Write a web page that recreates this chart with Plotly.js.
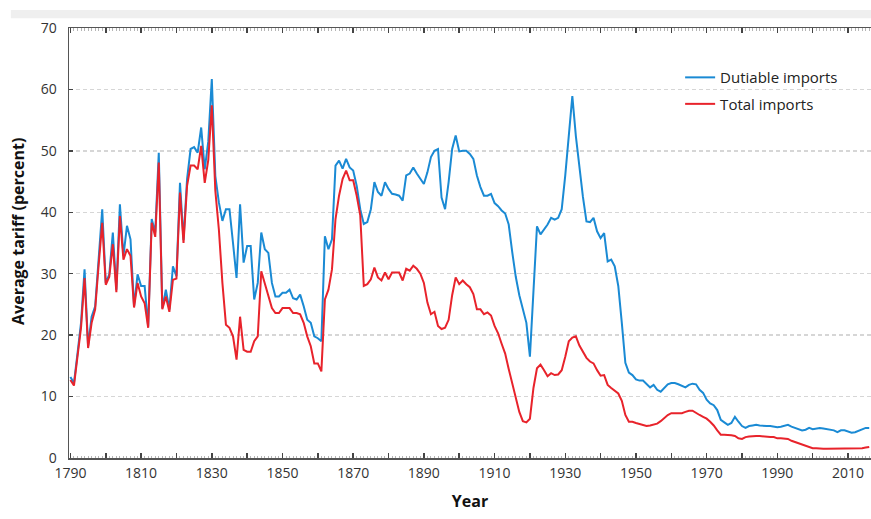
<!DOCTYPE html>
<html>
<head>
<meta charset="utf-8">
<script src="https://cdn.plot.ly/plotly-3.0.1.min.js"></script>
<style>
  html, body { margin: 0; padding: 0; background: #ffffff; }
  #chart { width: 871px; height: 519px; }
</style>
</head>
<body>
<div id="chart"></div>
<script>
// Average US tariff (percent), one value per year starting 1790
const startYear = 1790;

const dutiableImports = [
  13.2, 12.2, 17.0, 22.0, 30.7, 18.2, 23.0, 24.7, 32.5, 40.5,
  28.5, 29.9, 36.7, 27.4, 41.3, 32.9, 37.8, 35.6, 24.7, 29.9,
  28.0, 28.0, 21.4, 38.9, 36.7, 49.7, 24.4, 27.4, 24.2, 31.2,
  29.6, 44.8, 35.5, 45.4, 50.3, 50.6, 49.7, 53.8, 47.0, 51.5,
  61.7, 45.9, 41.6, 38.6, 40.5, 40.5, 35.0, 29.3, 41.3, 31.8,
  34.5, 34.5, 25.8, 28.5, 36.7, 34.0, 33.4, 28.5, 26.3, 26.3,
  26.9, 26.9, 27.4, 26.0, 25.8, 26.6, 24.7, 22.5, 22.0, 19.8,
  19.5, 19.0, 36.1, 34.0, 35.6, 47.6, 48.4, 47.1, 48.7, 47.3,
  46.8, 44.3, 40.5, 38.1, 38.4, 40.5, 44.9, 43.3, 42.7, 44.9,
  43.8, 43.0, 42.9, 42.7, 41.9, 46.0, 46.3, 47.3, 46.3, 45.4,
  44.6, 46.5, 49.0, 50.0, 50.3, 42.4, 40.5, 44.9, 50.3, 52.5,
  49.9, 50.0, 50.0, 49.5, 48.7, 46.0, 44.1, 42.7, 42.7, 43.0,
  41.5, 41.0, 40.3, 39.8, 38.0, 33.5, 29.5, 26.5, 24.0, 22.0,
  16.5, 27.9, 37.7, 36.4, 37.2, 38.0, 39.1, 38.8, 39.1, 40.5,
  46.0, 53.0, 58.9, 52.4, 47.0, 42.5, 38.5, 38.4, 39.1, 36.9,
  35.8, 36.6, 32.0, 32.3, 31.2, 28.0, 22.0, 15.5, 13.9, 13.5,
  12.8, 12.6, 12.6, 12.0, 11.5, 11.9, 11.1, 10.8, 11.4, 12.0,
  12.2, 12.2, 12.0, 11.8, 11.5, 11.9, 12.1, 12.0, 11.1, 10.6,
  9.5, 8.9, 8.6, 7.8, 6.2, 5.8, 5.4, 5.7, 6.7, 5.9,
  5.2, 4.9, 5.2, 5.3, 5.4, 5.3, 5.2, 5.2, 5.2, 5.1,
  5.0, 5.1, 5.3, 5.4, 5.1, 4.9, 4.6, 4.5, 4.6, 4.9,
  4.7, 4.8, 4.9, 4.8, 4.7, 4.6, 4.5, 4.2, 4.5, 4.5,
  4.3, 4.1, 4.2, 4.4, 4.6, 4.9, 4.9
];

const totalImports = [
  12.7, 11.8, 16.5, 21.2, 29.3, 17.9, 22.0, 24.2, 31.5, 38.3,
  28.2, 29.5, 34.8, 27.0, 39.4, 32.3, 34.0, 32.9, 24.5, 28.5,
  26.3, 25.2, 21.2, 38.3, 36.0, 48.1, 24.2, 26.3, 23.8, 29.0,
  29.2, 43.2, 35.0, 44.3, 47.6, 47.6, 47.0, 50.8, 44.8, 48.5,
  57.4, 43.5, 37.2, 28.5, 21.7, 21.2, 19.8, 16.0, 23.0, 17.6,
  17.3, 17.3, 19.0, 19.8, 30.4, 28.5, 26.3, 24.4, 23.6, 23.6,
  24.4, 24.4, 24.4, 23.6, 23.6, 23.4, 22.0, 19.8, 18.2, 15.4,
  15.4, 14.1, 25.8, 27.4, 30.7, 38.9, 42.7, 45.4, 46.8, 45.2,
  45.2, 42.7, 39.5, 28.0, 28.3, 29.1, 31.0, 29.4, 28.9, 30.2,
  29.1, 30.2, 30.2, 30.2, 28.9, 30.8, 30.5, 31.3, 30.8, 30.0,
  28.5, 25.3, 23.4, 23.8, 21.5, 21.0, 21.2, 22.5, 26.5, 29.4,
  28.3, 28.9, 28.3, 27.8, 26.7, 24.2, 24.2, 23.4, 23.7, 23.2,
  21.5, 20.3, 18.6, 17.0, 14.5, 12.0, 9.5, 7.5, 6.0, 5.8,
  6.4, 11.4, 14.6, 15.2, 14.3, 13.3, 13.8, 13.5, 13.6, 14.3,
  16.5, 19.0, 19.6, 19.8, 18.3, 17.2, 16.3, 15.7, 15.4, 14.3,
  13.4, 13.5, 11.9, 11.4, 11.0, 10.5, 9.3, 7.0, 5.9, 5.9,
  5.7, 5.5, 5.4, 5.2, 5.3, 5.4, 5.6, 6.0, 6.5, 7.0,
  7.3, 7.3, 7.3, 7.3, 7.5, 7.7, 7.7, 7.3, 7.0, 6.7,
  6.4, 5.9, 5.3, 4.5, 3.8, 3.8, 3.8, 3.7, 3.6, 3.2,
  3.1, 3.4, 3.5, 3.6, 3.6, 3.6, 3.5, 3.4, 3.4, 3.4,
  3.2, 3.2, 3.2, 3.1, 2.8, 2.6, 2.3, 2.1, 1.9, 1.7,
  1.6, 1.6, 1.5, 1.5, 1.5, 1.5, 1.5, 1.5, 1.5, 1.5,
  1.5, 1.5, 1.5, 1.5, 1.6, 1.7, 1.8
];

const seriesNames = ['Dutiable imports', 'Total imports'];
const xTickValues = [1790, 1800, 1810, 1820, 1830, 1840, 1850, 1860, 1870, 1880, 1890,
                     1900, 1910, 1920, 1930, 1940, 1950, 1960, 1970, 1980, 1990, 2000, 2010];
const xTickLabels = ['1790', '', '1810', '', '1830', '', '1850', '', '1870', '', '1890',
                     '', '1910', '', '1930', '', '1950', '', '1970', '', '1990', '', '2010'];
const yTickValues = [0, 10, 20, 30, 40, 50, 60, 70];
const axisTitles = { x: 'Year', y: 'Average tariff (percent)' };

const years = dutiableImports.map((_, i) => startYear + i);

const FONT = 'Open Sans, Noto Sans, sans-serif';

const traces = [
  {
    x: years, y: dutiableImports, name: seriesNames[0], type: 'scatter', mode: 'lines',
    line: { color: '#1a8ad4', width: 2 }, legendgroup: 'a'
  },
  {
    x: years, y: totalImports, name: seriesNames[1], type: 'scatter', mode: 'lines',
    line: { color: '#e8232b', width: 2 }, legendgroup: 'b'
  }
];

const layout = {
  width: 871, height: 519,
  margin: { l: 69, r: 0, t: 28, b: 61, pad: 0 },
  paper_bgcolor: '#ffffff', plot_bgcolor: '#ffffff',
  font: { family: FONT, color: '#333333' },
  showlegend: true,
  legend: {
    x: 0.762, xanchor: 'left', y: 0.923, yanchor: 'top',
    bgcolor: 'rgba(0,0,0,0)', borderwidth: 0,
    font: { family: FONT, size: 15, color: '#222222' },
    tracegroupgap: 4, traceorder: 'grouped'
  },
  xaxis: {
    range: [1789.6, 2016.5],
    tickmode: 'array', tickvals: xTickValues, ticktext: xTickLabels,
    ticks: 'inside', ticklen: 5, tickwidth: 1.5, tickcolor: '#444444',
    minor: { tickmode: 'linear', tick0: 1790, dtick: 1, ticks: 'inside', ticklen: 2.5,
             tickwidth: 1, tickcolor: '#b5b5b5', showgrid: false },
    showline: true, linecolor: '#555555', linewidth: 1.5, mirror: 'ticks',
    showgrid: false, zeroline: false,
    ticklabelstandoff: 2,
    tickfont: { family: FONT, size: 14, color: '#333333' },
    title: { text: axisTitles.x, font: { family: FONT, size: 16, color: '#111111', weight: 'bold' }, standoff: 14 }
  },
  yaxis: {
    range: [0, 70], tickmode: 'array', tickvals: yTickValues,
    ticks: 'inside', ticklen: 4, tickwidth: 1.5, tickcolor: '#444444',
    showline: true, linecolor: '#555555', linewidth: 1.5, mirror: false,
    showgrid: true, gridcolor: '#d6d6d6', gridwidth: 1.5, griddash: '4px,3px',
    zeroline: false, ticklabelstandoff: 8,
    tickfont: { family: FONT, size: 14, color: '#333333' }
  },
  annotations: [
    { text: axisTitles.y, xref: 'paper', yref: 'paper', x: -0.0636, y: 0.528,
      xanchor: 'center', yanchor: 'middle', textangle: -90, showarrow: false,
      font: { family: FONT, size: 16, color: '#111111', weight: 'bold' } }
  ],
  shapes: [
    { type: 'rect', xref: 'paper', yref: 'paper', x0: -0.0725, x1: 1.0, y0: 1.0226, y1: 1.0419,
      fillcolor: '#efefef', line: { width: 0 }, layer: 'below' }
  ]
};

Plotly.newPlot('chart', traces, layout, { displayModeBar: false, staticPlot: true });
</script>
</body>
</html>
